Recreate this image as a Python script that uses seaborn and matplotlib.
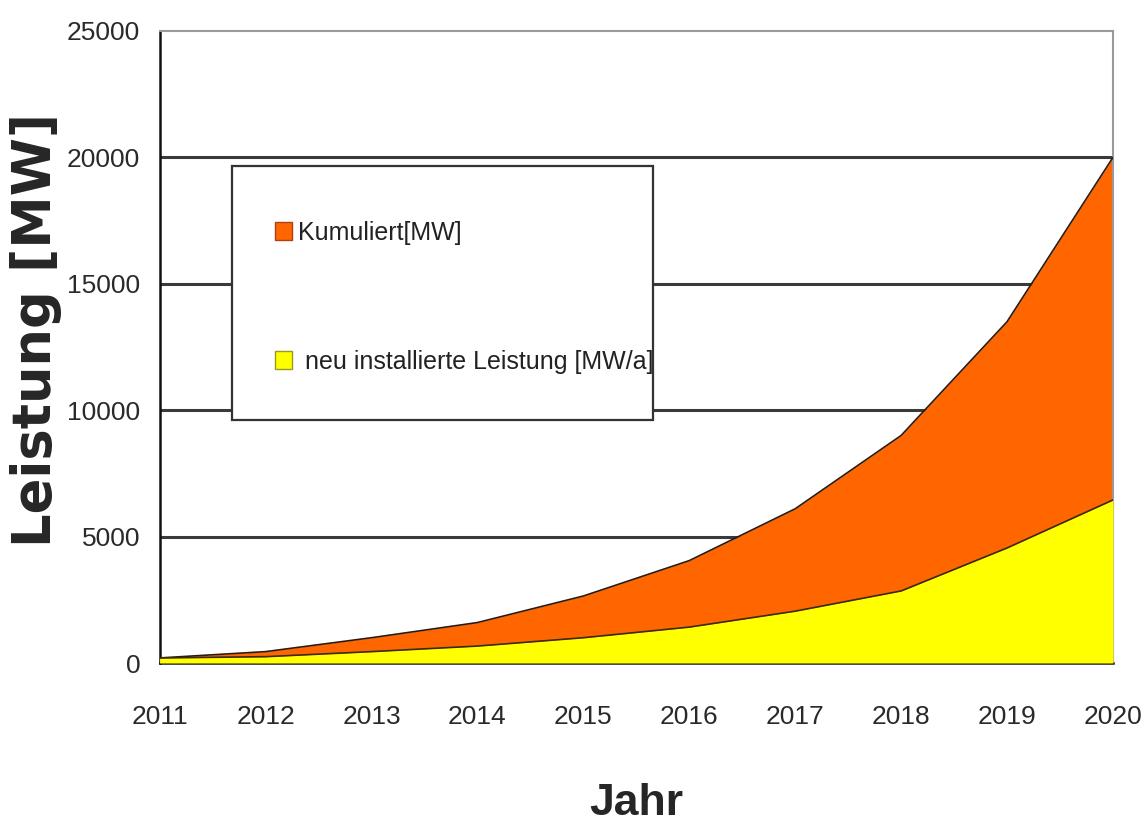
import numpy as np
import pandas as pd
import matplotlib
matplotlib.use('Agg')
import matplotlib.pyplot as plt
from matplotlib.patches import Patch, Rectangle
import seaborn as sns

# values
jahre = [2011, 2012, 2013, 2014, 2015, 2016, 2017, 2018, 2019, 2020]
kumuliert = [200, 450, 1000, 1600, 2650, 4050, 6100, 9000, 13500, 20000]
neu_installiert = [200, 250, 450, 670, 1000, 1420, 2050, 2850, 4550, 6450]
y_ticks = [0, 5000, 10000, 15000, 20000, 25000]

df = pd.DataFrame({'Jahr': jahre, 'Kumuliert': kumuliert, 'Neu': neu_installiert})

sns.set_style('white')
fonts = ['Liberation Sans', 'DejaVu Sans']
plt.rcParams['font.family'] = fonts

fig, ax = plt.subplots(figsize=(11.48, 8.3), dpi=100)
fig.subplots_adjust(left=0.139, right=0.9695, top=0.9627, bottom=0.2012)

# horizontal grid behind the areas
for v in y_ticks[1:-1]:
    ax.axhline(v, color='#3a3a3a', lw=2.2, zorder=0)

ax.fill_between(df['Jahr'], df['Kumuliert'], color='#FF6600', zorder=2, lw=0)
sns.lineplot(data=df, x='Jahr', y='Kumuliert', ax=ax, color='#2a1a10', lw=1.2, zorder=3)
ax.fill_between(df['Jahr'], df['Neu'], color='#FFFF00', zorder=4, lw=0)
sns.lineplot(data=df, x='Jahr', y='Neu', ax=ax, color='#3a2a10', lw=1.2, zorder=5)

ax.set_xlim(2011, 2020)
ax.set_ylim(0, 25000)
ax.set_xticks(jahre)
ax.set_yticks(y_ticks)
ax.tick_params(axis='both', direction='out', length=8, width=1.5, color='#222222',
               labelsize=19, labelcolor='#2a2a2a', pad=6)
ax.tick_params(axis='x', pad=22)

for s in ['left', 'bottom']:
    ax.spines[s].set_color('#111111')
    ax.spines[s].set_linewidth(1.8)
for s in ['top', 'right']:
    ax.spines[s].set_color('#9a9a9a')
    ax.spines[s].set_linewidth(1.5)
ax.spines['top'].set_zorder(6)

ax.set_xlabel('Jahr', fontsize=32, fontweight='bold')
ax.xaxis.set_label_coords(0.4995, -0.19)
ax.set_ylabel('Leistung [MW]', fontsize=38, fontweight='bold', family=['DejaVu Sans'])
ax.yaxis.set_label_coords(-0.102, 0.527)

# legend box
box = Rectangle((0.0755, 0.384), 0.442, 0.402, transform=ax.transAxes,
                facecolor='white', edgecolor='#333333', lw=1.6, zorder=9)
ax.add_patch(box)

handles = [Patch(facecolor='#FF6600', edgecolor='#b04010', lw=1.0, label='Kumuliert[MW]'),
           Patch(facecolor='#FFFF00', edgecolor='#9a9a20', lw=1.0,
                 label=' neu installierte Leistung [MW/a]')]
leg = ax.legend(handles=handles, loc='upper left',
                bbox_to_anchor=(0.1207, 0.70), fontsize=18, frameon=False,
                borderpad=0, labelspacing=4.2,
                handlelength=0.7, handleheight=0.7, handletextpad=0.25,
                borderaxespad=0)
leg.set_zorder(10)
for t in leg.get_texts():
    t.set_color('#222222')

plt.savefig('out.png', dpi=100)
